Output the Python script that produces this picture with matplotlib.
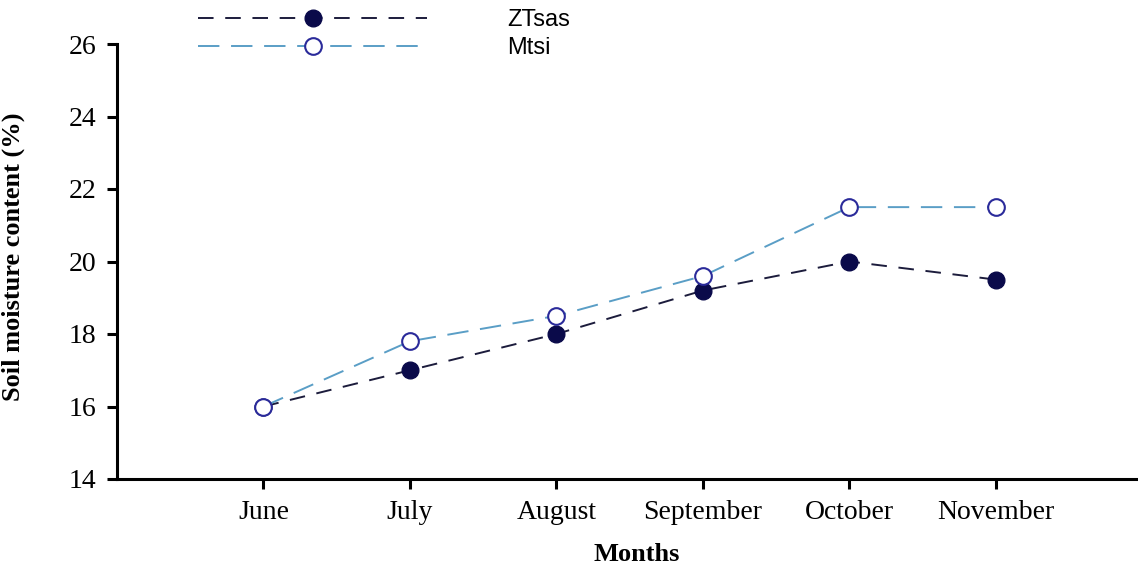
import matplotlib
matplotlib.use("Agg")
import matplotlib.pyplot as plt

months = ["June", "July", "August", "September", "October", "November"]
ztsas = [16.0, 17.0, 18.0, 19.2, 20.0, 19.5]
mtsi = [16.0, 17.8, 18.5, 19.6, 21.5, 21.5]

x = list(range(1, len(months) + 1))

fig = plt.figure(figsize=(11.38, 5.69), dpi=100)
ax = fig.add_axes([117 / 1138, 1 - 479 / 569, 1 - 117 / 1138, (479 - 44) / 569])

ax.plot(x, ztsas, color="#1c1c3c", lw=1.4, dashes=(8, 6),
        marker="o", markersize=12, markerfacecolor="#0a0a4a",
        markeredgecolor="#0a0a4a", label="ZTsas", zorder=3)
ax.plot(x, mtsi, color="#5a9ec6", lw=1.4, dashes=(11, 6),
        marker="o", markersize=12, markerfacecolor="white",
        markeredgecolor="#2a2a9a", markeredgewidth=1.5, label="Mtsi", zorder=3)

ax.set_xlim(0, 6.97)
ax.set_ylim(14, 26)
ax.set_yticks(range(14, 27, 2))
ax.set_xticks(x)
ax.set_xticklabels(months)

for s in ["top", "right"]:
    ax.spines[s].set_visible(False)
for s in ["left", "bottom"]:
    ax.spines[s].set_linewidth(2.2)

ax.tick_params(axis="both", direction="out", length=7, width=2.2,
               labelsize=20, labelfontfamily="Liberation Serif")
ax.tick_params(axis="y", pad=8)
ax.tick_params(axis="x", pad=8)

ax.set_ylabel("Soil moisture content (%)", family="Liberation Serif",
              fontweight="bold", fontsize=19)
ax.yaxis.set_label_coords(-0.09, 0.51)
ax.set_xlabel("Months", family="Liberation Serif", fontweight="bold", fontsize=19)
ax.xaxis.set_label_coords(0.509, -0.148)

fig.legend(loc="upper left", bbox_to_anchor=(198 / 1138, 1 - 9 / 569),
           frameon=False, numpoints=1, handlelength=9.7, handletextpad=3.4,
           borderpad=0, borderaxespad=0, labelspacing=0.25,
           prop={"family": "Liberation Sans", "size": 17})

fig.savefig("out.png", dpi=100)
